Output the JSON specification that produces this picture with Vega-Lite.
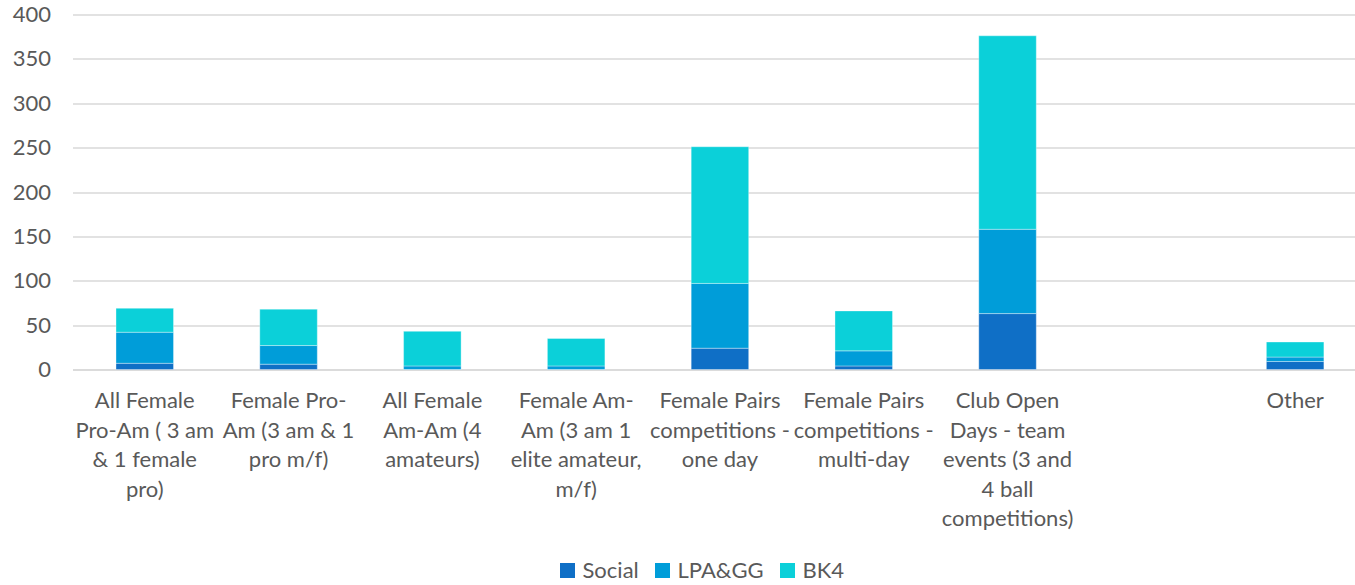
{
  "$schema": "https://vega.github.io/schema/vega-lite/v6.json",
  "autosize": "none",
  "width": 1282.5,
  "height": 355,
  "padding": {"left": 72.5, "top": 14.5, "right": 0, "bottom": 215.5},
  "background": "white",
  "config": {
    "view": {"stroke": null},
    "font": "Lato",
    "axis": {"labelFont": "Lato", "labelFontSize": 22, "labelColor": "#595959"},
    "legend": {"labelFont": "Lato", "labelFontSize": 22, "labelColor": "#595959"}
  },
  "data": {
    "values": [
      {"category": "All Female|Pro-Am ( 3 am|& 1 female|pro)", "series": "Social", "value": 7},
      {"category": "All Female|Pro-Am ( 3 am|& 1 female|pro)", "series": "LPA&GG", "value": 35},
      {"category": "All Female|Pro-Am ( 3 am|& 1 female|pro)", "series": "BK4", "value": 27},
      {"category": "Female Pro-|Am (3 am & 1|pro m/f)", "series": "Social", "value": 6},
      {"category": "Female Pro-|Am (3 am & 1|pro m/f)", "series": "LPA&GG", "value": 21},
      {"category": "Female Pro-|Am (3 am & 1|pro m/f)", "series": "BK4", "value": 41},
      {"category": "All Female|Am-Am (4|amateurs)", "series": "Social", "value": 0},
      {"category": "All Female|Am-Am (4|amateurs)", "series": "LPA&GG", "value": 4},
      {"category": "All Female|Am-Am (4|amateurs)", "series": "BK4", "value": 39},
      {"category": "Female Am-|Am (3 am 1|elite amateur,|m/f)", "series": "Social", "value": 0},
      {"category": "Female Am-|Am (3 am 1|elite amateur,|m/f)", "series": "LPA&GG", "value": 4},
      {"category": "Female Am-|Am (3 am 1|elite amateur,|m/f)", "series": "BK4", "value": 31},
      {"category": "Female Pairs|competitions -|one day", "series": "Social", "value": 24},
      {"category": "Female Pairs|competitions -|one day", "series": "LPA&GG", "value": 73},
      {"category": "Female Pairs|competitions -|one day", "series": "BK4", "value": 154},
      {"category": "Female Pairs|competitions -|multi-day", "series": "Social", "value": 4},
      {"category": "Female Pairs|competitions -|multi-day", "series": "LPA&GG", "value": 17},
      {"category": "Female Pairs|competitions -|multi-day", "series": "BK4", "value": 45},
      {"category": "Club Open|Days - team|events (3 and|4 ball|competitions)", "series": "Social", "value": 63},
      {"category": "Club Open|Days - team|events (3 and|4 ball|competitions)", "series": "LPA&GG", "value": 95},
      {"category": "Club Open|Days - team|events (3 and|4 ball|competitions)", "series": "BK4", "value": 218},
      {"category": "Other", "series": "Social", "value": 9},
      {"category": "Other", "series": "LPA&GG", "value": 5},
      {"category": "Other", "series": "BK4", "value": 17}
    ]
  },
  "mark": {"type": "bar", "stroke": "#ffffff", "strokeWidth": 1, "strokeOpacity": 0.35},
  "encoding": {
    "x": {
      "field": "category",
      "type": "nominal",
      "scale": {
        "domain": [
          "All Female|Pro-Am ( 3 am|& 1 female|pro)",
          "Female Pro-|Am (3 am & 1|pro m/f)",
          "All Female|Am-Am (4|amateurs)",
          "Female Am-|Am (3 am 1|elite amateur,|m/f)",
          "Female Pairs|competitions -|one day",
          "Female Pairs|competitions -|multi-day",
          "Club Open|Days - team|events (3 and|4 ball|competitions)",
          " ",
          "Other"
        ],
        "paddingInner": 0.6,
        "paddingOuter": 0.2594,
        "align": 0.583
      },
      "axis": {
        "title": null,
        "labelAngle": 0,
        "labelAlign": "center",
        "labelBaseline": "top",
        "labelExpr": "split(datum.value, '|')",
        "labelLineHeight": 29.5,
        "labelPadding": 21,
        "labelLimit": 400,
        "ticks": false,
        "domain": true,
        "domainColor": "#d9d9d9",
        "domainWidth": 1.3,
        "grid": false
      }
    },
    "y": {
      "field": "value",
      "type": "quantitative",
      "aggregate": "sum",
      "stack": "zero",
      "scale": {"domain": [0, 400], "nice": false},
      "axis": {
        "title": null,
        "values": [0, 50, 100, 150, 200, 250, 300, 350, 400],
        "ticks": false,
        "domain": false,
        "grid": true,
        "gridColor": "#d9d9d9",
        "gridWidth": 1.3,
        "labelPadding": 22,
        "labelBaseline": "middle"
      }
    },
    "color": {
      "field": "series",
      "type": "nominal",
      "sort": ["Social", "LPA&GG", "BK4"],
      "scale": {
        "domain": ["Social", "LPA&GG", "BK4"],
        "range": ["#0F6FC6", "#009DD9", "#0BD0D9"]
      },
      "legend": {
        "title": null,
        "orient": "none",
        "legendX": 484,
        "legendY": 545,
        "direction": "horizontal",
        "symbolType": "square",
        "symbolSize": 225,
        "symbolStrokeWidth": 0,
        "labelOffset": 4,
        "columnPadding": 12
      }
    }
  }
}
